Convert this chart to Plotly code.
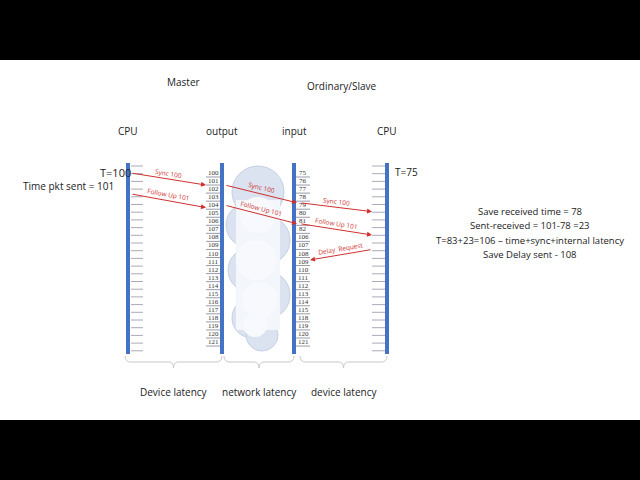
import math
import plotly.graph_objects as go

# tick labels next to the timelines
master_out = [str(v) for v in range(100, 122)]
slave_in = ["75", "76", "77", "78", "79", "80", "81", "82", "106", "107", "108",
            "109", "110", "111", "112", "113", "114", "115", "118", "119", "120", "121"]
columns = ["CPU", "output", "input", "CPU"]
col_x = [128, 222, 294, 387]
# messages: (label, from column, from row, to column, to row)
msgs = [("Sync 100", 0, 0.0, 1, 1.5), ("Follow Up 101", 0, 2.6, 1, 4.3),
        ("Sync 100", 1, 1.5, 2, 3.7), ("Follow Up 101", 1, 4.0, 2, 6.3),
        ("Sync 100", 2, 3.7, 3, 4.8), ("Follow Up 101", 2, 6.3, 3, 7.7),
        ("Delay  Request", 3, 9.5, 2, 10.8)]
notes = ["Save received time = 78", "Sent-received = 101-78 =23",
         "T=83+23=106 \u2013 time+sync+internal latency", "Save Delay sent - 108"]
latency = ["Device latency", "network latency", "device latency"]

y0, step = 173, 8.05
red = "#d03030"
blue = "#4472c4"
fig = go.Figure()
shapes, ann = [], []
F = dict(family="Open Sans", color="#222")

shapes += [dict(type="rect", x0=0, x1=640, y0=0, y1=60, fillcolor="black", line_width=0),
           dict(type="rect", x0=0, x1=640, y0=420, y1=480, fillcolor="black", line_width=0)]

# cloud
for cx, cy, r in [(258, 192, 26), (248, 225, 22), (266, 240, 24), (250, 270, 22),
                  (266, 295, 24), (252, 318, 20), (262, 335, 16)]:
    shapes.append(dict(type="circle", x0=cx - r, x1=cx + r, y0=cy - r, y1=cy + r,
                       fillcolor="#dbe3f0", line=dict(color="#c4d0e4", width=1)))
shapes.append(dict(type="rect", x0=236, x1=280, y0=200, y1=330, fillcolor="#f3f6fb", line_width=0))
for cx, cy, r in [(258, 215, 18), (256, 260, 20), (260, 300, 18), (255, 325, 12)]:
    shapes.append(dict(type="circle", x0=cx - r, x1=cx + r, y0=cy - r, y1=cy + r,
                       fillcolor="#f7f9fd", line_width=0))

# ticks
for i in range(25):
    y = 166 + i * 7.7
    shapes.append(dict(type="line", x0=131, x1=143, y0=y, y1=y, line=dict(color="#aab", width=1)))
    shapes.append(dict(type="line", x0=372, x1=385, y0=y, y1=y, line=dict(color="#aab", width=1)))
for i, (a, b) in enumerate(zip(master_out, slave_in)):
    y = y0 + i * step
    shapes.append(dict(type="line", x0=206, x1=220, y0=y + 4, y1=y + 4, line=dict(color="#99a", width=1)))
    shapes.append(dict(type="line", x0=296, x1=310, y0=y + 4, y1=y + 4, line=dict(color="#99a", width=1)))
    ann.append(dict(x=213, y=y, text=a, showarrow=False, font=dict(size=7, family="Liberation Serif", color="#333")))
    ann.append(dict(x=303, y=y, text=b, showarrow=False, font=dict(size=7, family="Liberation Serif", color="#333")))

for x, c in zip(col_x, columns):
    shapes.append(dict(type="line", x0=x, x1=x, y0=163, y1=354, line=dict(color=blue, width=4)))
    ann.append(dict(x=x, y=131, text=c, showarrow=False, font=dict(size=10, **F)))

# messages
edge = {0: 131, 1: 206, 2: 297, 3: 372}
start = {0: 131, 1: 225, 2: 300, 3: 372}
for lab, c0, r0, c1, r1 in msgs:
    xa, ya = start[c0], y0 + r0 * step
    xb = edge[c1] if c1 > c0 else 310
    yb = y0 + r1 * step
    ann.append(dict(x=xb, y=yb, ax=xa, ay=ya, xref="x", yref="y", axref="x", ayref="y",
                    text="", showarrow=True, arrowhead=2, arrowsize=1, arrowwidth=1, arrowcolor=red))
    ang = math.degrees(math.atan2(yb - ya, xb - xa))
    if xb < xa:
        ang -= 180
    ann.append(dict(x=(xa + xb) / 2, y=(ya + yb) / 2 - 6, text=lab, showarrow=False,
                    textangle=ang, font=dict(size=6.5, color=red, family="Open Sans")))

ann += [dict(x=183, y=82, text="Master", showarrow=False, font=dict(size=10, **F)),
        dict(x=342, y=86, text="Ordinary/Slave", showarrow=False, font=dict(size=10, **F)),
        dict(x=115, y=172, text="T=100", showarrow=False, font=dict(size=11, **F)),
        dict(x=68, y=186, text="Time pkt sent = 101", showarrow=False, font=dict(size=10, **F)),
        dict(x=406, y=172, text="T=75", showarrow=False, font=dict(size=10, **F))]
for i, t in enumerate(notes):
    ann.append(dict(x=530, y=211 + i * 14.5, text=t, showarrow=False, font=dict(size=9.5, **F)))

# braces
for (a, b), t in zip([(125, 222), (224, 294), (300, 387)], latency):
    m = (a + b) / 2
    path = f"M{a},356 Q{a},362 {a+6},362 L{m-5},362 Q{m},362 {m},368 Q{m},362 {m+5},362 L{b-6},362 Q{b},362 {b},356"
    shapes.append(dict(type="path", path=path, line=dict(color="#c8c8c8", width=1)))
    ann.append(dict(x=m, y=392, text=t, showarrow=False, font=dict(size=10, **F)))

fig.update_layout(width=640, height=480, margin=dict(l=0, r=0, t=0, b=0),
                  plot_bgcolor="white", paper_bgcolor="white", shapes=shapes, annotations=ann,
                  xaxis=dict(range=[0, 640], visible=False, fixedrange=True),
                  yaxis=dict(range=[480, 0], visible=False, fixedrange=True), showlegend=False)
fig.write_html("out.html", config={"displayModeBar": False},
               post_script="document.body.style.margin='0';document.body.style.overflow='hidden';")
